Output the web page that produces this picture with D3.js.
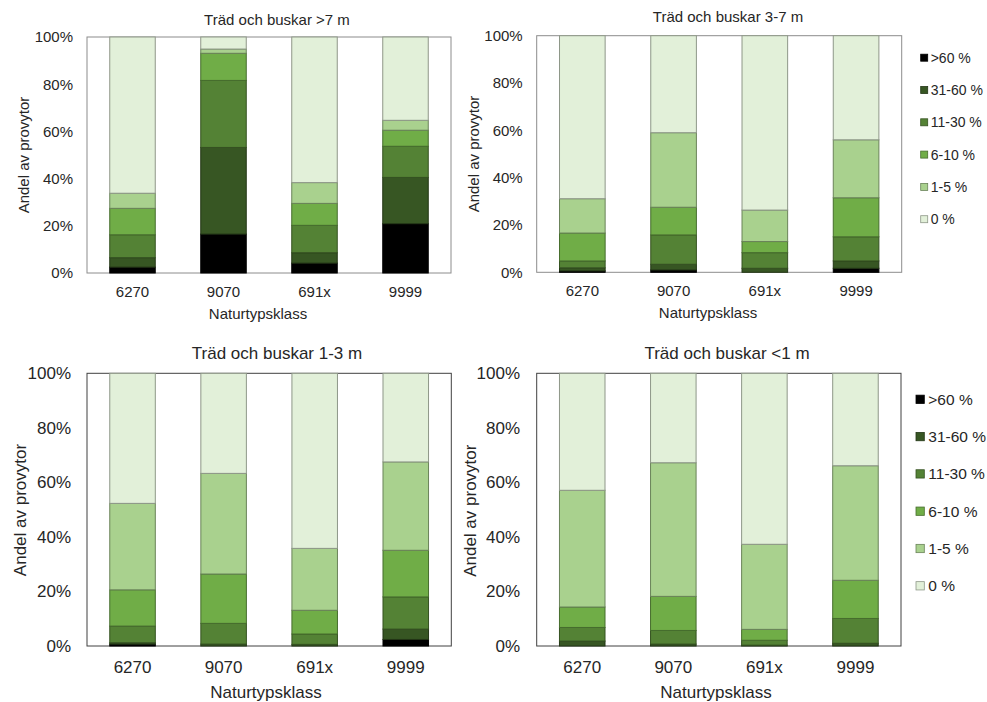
<!DOCTYPE html>
<html>
<head>
<meta charset="utf-8">
<script src="https://cdn.jsdelivr.net/npm/d3@7"></script>
<style>
  html, body { margin: 0; padding: 0; background: #fff; }
  svg { display: block; font-family: "Liberation Sans", Arial, sans-serif; }
</style>
</head>
<body>
<svg id="chart" width="987" height="702"></svg>
<script>
// Vegetation cover classes, stacked from the bottom up
const coverClasses = [">60 %", "31-60 %", "11-30 %", "6-10 %", "1-5 %", "0 %"];
const classColors = ["#000000", "#375623", "#548235", "#70AD47", "#A9D18E", "#E2F0D9"];

// Nature type classes on the x axis
const categories = ["6270", "9070", "691x", "9999"];
const yTicks = [0, 20, 40, 60, 80, 100];

// Share of sample plots (%) per cover class, one row per nature type class
const over7m = [
  [2.5, 4.0, 9.7, 11.2, 6.4, 66.2],
  [16.5, 36.7, 28.4, 11.5, 1.8, 5.1],
  [4.2, 4.4, 11.6, 9.3, 8.8, 61.7],
  [20.9, 19.6, 13.2, 6.8, 4.2, 35.3]
];
const from3to7m = [
  [0.6, 1.3, 2.9, 11.8, 14.5, 68.9],
  [1.0, 2.4, 12.4, 11.7, 31.5, 41.0],
  [0.0, 1.7, 6.6, 4.7, 13.3, 73.7],
  [1.7, 3.1, 10.2, 16.5, 24.5, 44.0]
];
const from1to3m = [
  [0.7, 0.5, 6.1, 13.3, 31.7, 47.7],
  [0.0, 0.7, 7.6, 18.1, 36.9, 36.7],
  [0.0, 0.6, 3.8, 8.7, 22.7, 64.2],
  [2.4, 3.8, 11.8, 17.1, 32.4, 32.5]
];
const under1m = [
  [0.0, 1.8, 5.0, 7.5, 42.8, 42.9],
  [0.0, 0.7, 5.0, 12.5, 49.0, 32.8],
  [0.0, 0.3, 1.8, 4.0, 31.2, 62.7],
  [0.0, 1.0, 9.1, 14.0, 42.0, 33.9]
];

const titles = ["Träd och buskar >7 m", "Träd och buskar 3-7 m", "Träd och buskar 1-3 m", "Träd och buskar <1 m"];
const xTitle = "Naturtypsklass";
const yTitle = "Andel av provytor";

// Panel layout
const panels = [
  { data: over7m, title: titles[0], x0: 87, x1: 451, y0: 37, y1: 273, fs: 15,
    titleX: 277, titleY: 24.7, xtX: 258, xtY: 318.5, ytX: 29, ytY: 155,
    yPad: 14, xPad: 13.4, frame: "#8c8c8c", legend: null },
  { data: from3to7m, title: titles[1], x0: 536.7, x1: 901.7, y0: 35.7, y1: 272.3, fs: 15,
    titleX: 728, titleY: 22, xtX: 708, xtY: 317.6, ytX: 479, ytY: 154,
    yPad: 14, xPad: 13.4, frame: "#8c8c8c",
    legend: { x: 920.7, y: 57.7, step: 32.3, box: 7, tx: 930.7, fs: 14 } },
  { data: from1to3m, title: titles[2], x0: 87, x1: 451.3, y0: 373.3, y1: 646, fs: 17,
    titleX: 277, titleY: 358.8, xtX: 266, xtY: 697.8, ytX: 25.5, ytY: 510,
    yPad: 16, xPad: 14.7, frame: "#404040", legend: null },
  { data: under1m, title: titles[3], x0: 536.7, x1: 901, y0: 373.3, y1: 646, fs: 17,
    titleX: 727, titleY: 358.8, xtX: 716, xtY: 697.8, ytX: 476, ytY: 510.7,
    yPad: 16.7, xPad: 14.7, frame: "#404040",
    legend: { x: 916, y: 399.3, step: 37.3, box: 8.3, tx: 928.3, fs: 15.5 } }
];

const textColor = "#262626";
const svg = d3.select("#chart");

const stack = d3.stack().keys(d3.range(coverClasses.length));

panels.forEach(p => {
  const g = svg.append("g");

  const x = d3.scaleBand().domain(categories).range([p.x0, p.x1])
    .paddingInner(0.5).paddingOuter(0.25);
  const y = d3.scaleLinear().domain([0, 100]).range([p.y1, p.y0]);

  // Plot frame
  g.append("rect")
    .attr("x", p.x0).attr("y", p.y0)
    .attr("width", p.x1 - p.x0).attr("height", p.y1 - p.y0)
    .attr("fill", "none").attr("stroke", p.frame).attr("stroke-width", 1);

  // Stacked bars
  const rows = p.data.map((vals, i) => Object.assign({ cat: categories[i] }, vals));
  const layers = stack(rows);
  g.selectAll("g.layer").data(layers).join("g")
    .attr("class", "layer")
    .attr("fill", d => classColors[d.key])
    .attr("stroke", d => d3.color(classColors[d.key]).darker(1.3))
    .attr("stroke-width", 1)
    .selectAll("rect").data(d => d).join("rect")
      .attr("x", d => x(d.data.cat))
      .attr("width", x.bandwidth())
      .attr("y", d => y(d[1]))
      .attr("height", d => Math.max(0, y(d[0]) - y(d[1])))
      .attr("stroke-opacity", d => (d[1] - d[0]) > 0 ? 1 : 0);

  // Y axis
  const yAxis = g.append("g")
    .attr("transform", `translate(${p.x0},0)`)
    .call(d3.axisLeft(y).tickValues(yTicks).tickSize(0).tickPadding(p.yPad)
      .tickFormat(d => d + "%"));
  yAxis.select(".domain").remove();
  yAxis.selectAll("text").attr("fill", textColor).style("font-size", p.fs + "px")
    .style("font-family", '"Liberation Sans", Arial, sans-serif');

  // X axis
  const xAxis = g.append("g")
    .attr("transform", `translate(0,${p.y1})`)
    .call(d3.axisBottom(x).tickSize(0).tickPadding(p.xPad));
  xAxis.select(".domain").remove();
  xAxis.selectAll("text").attr("fill", textColor).style("font-size", p.fs + "px")
    .style("font-family", '"Liberation Sans", Arial, sans-serif');

  // Titles
  g.append("text").attr("x", p.titleX).attr("y", p.titleY)
    .attr("text-anchor", "middle").attr("fill", textColor)
    .style("font-size", p.fs + "px").text(p.title);
  g.append("text").attr("x", p.xtX).attr("y", p.xtY)
    .attr("text-anchor", "middle").attr("fill", textColor)
    .style("font-size", p.fs + "px").text(xTitle);
  g.append("text")
    .attr("transform", `translate(${p.ytX},${p.ytY}) rotate(-90)`)
    .attr("text-anchor", "middle").attr("fill", textColor)
    .style("font-size", p.fs + "px").text(yTitle);

  // Legend
  if (p.legend) {
    const L = p.legend;
    const items = g.append("g").selectAll("g").data(coverClasses).join("g")
      .attr("transform", (d, i) => `translate(0,${L.y + i * L.step})`);
    items.append("rect")
      .attr("x", L.x).attr("y", -L.box / 2)
      .attr("width", L.box).attr("height", L.box)
      .attr("fill", (d, i) => classColors[i])
      .attr("stroke", (d, i) => d3.color(classColors[i]).darker(1.3))
      .attr("stroke-width", 0.8);
    items.append("text")
      .attr("x", L.tx).attr("y", L.fs * 0.358)
      .attr("fill", textColor).style("font-size", L.fs + "px")
      .text(d => d);
  }
});
</script>
</body>
</html>
